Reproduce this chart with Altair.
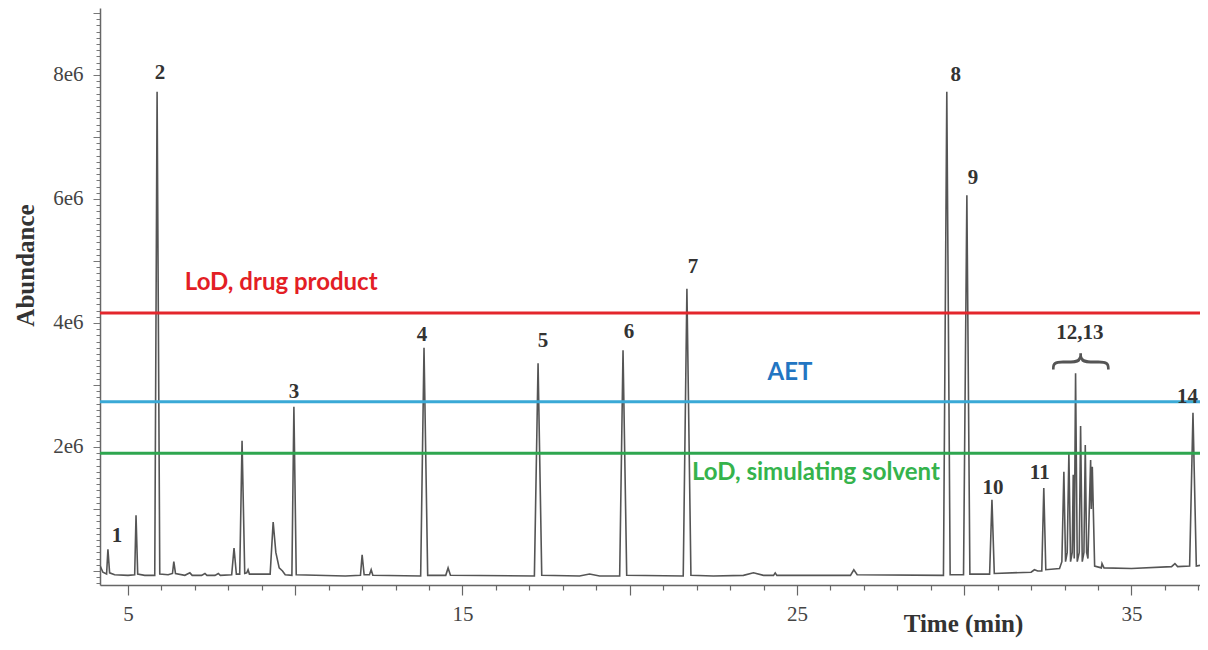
import altair as alt
import pandas as pd

# Chromatogram trace vertices: (time in min, abundance in 1e6)
TRACE = [
    (4.17, 0.08), (4.25, -0.02), (4.36, -0.05), (4.40, 0.35), (4.45, -0.03), (4.60, -0.06),
    (5.00, -0.07), (5.20, -0.06), (5.24, 0.90), (5.29, -0.05), (5.50, -0.07), (5.80, -0.07),
    (5.87, 7.73), (5.95, -0.05), (6.20, -0.06), (6.33, -0.04), (6.37, 0.15), (6.42, -0.04),
    (6.70, -0.07), (6.85, -0.03), (6.92, -0.07), (7.20, -0.07), (7.30, -0.04), (7.36, -0.07),
    (7.60, -0.07), (7.70, -0.04), (7.76, -0.07), (8.10, -0.06), (8.17, 0.37), (8.24, -0.05),
    (8.34, -0.05), (8.41, 2.10), (8.49, -0.04), (8.55, -0.03), (8.59, 0.02), (8.63, -0.05),
    (9.25, -0.05), (9.34, 0.79), (9.42, 0.30), (9.52, 0.05), (9.62, 0.00), (9.70, -0.06),
    (9.90, -0.07), (9.96, 2.65), (10.03, -0.06), (11.50, -0.08), (11.95, -0.07), (12.00, 0.26),
    (12.06, -0.06), (12.22, -0.06), (12.27, 0.02), (12.32, -0.07), (13.75, -0.08), (13.85, 3.60),
    (13.96, -0.07), (14.50, -0.07), (14.57, 0.05), (14.64, -0.07), (17.15, -0.08), (17.26, 3.35),
    (17.37, -0.07), (18.50, -0.08), (18.80, -0.05), (19.10, -0.08), (19.70, -0.08), (19.80, 3.56),
    (19.91, -0.07), (21.60, -0.08), (21.71, 4.55), (21.83, -0.07), (22.50, -0.08), (23.40, -0.07),
    (23.70, -0.03), (24.00, -0.07), (24.30, -0.07), (24.35, -0.03), (24.40, -0.07), (26.60, -0.07),
    (26.70, 0.02), (26.80, -0.06), (29.38, -0.07), (29.48, 7.73), (29.58, -0.06), (29.98, -0.06),
    (30.08, 6.06), (30.17, -0.05), (30.76, -0.05), (30.83, 1.15), (30.90, -0.04), (32.00, -0.02),
    (32.10, 0.02), (32.20, 0.00), (32.32, 0.00), (32.38, 1.34), (32.44, 0.02), (32.85, 0.04),
    (32.92, 0.15), (32.98, 1.60), (33.03, 0.15), (33.08, 0.30), (33.13, 1.90), (33.18, 0.15),
    (33.23, 0.30), (33.26, 1.55), (33.29, 0.20), (33.33, 3.19), (33.38, 0.15), (33.44, 0.30),
    (33.48, 2.34), (33.53, 0.15), (33.58, 0.30), (33.62, 2.03), (33.66, 0.30), (33.70, 0.20),
    (33.78, 1.79), (33.80, 1.00), (33.83, 1.68), (33.90, 0.08), (34.10, 0.05), (34.12, 0.12),
    (34.18, 0.05), (35.00, 0.04), (36.20, 0.07), (36.30, 0.12), (36.38, 0.07), (36.74, 0.08),
    (36.84, 2.55), (36.94, 0.08), (37.05, 0.09),
]

# Peak number labels: text, time, abundance (1e6)
PEAK_LABELS = ["1", "2", "3", "4", "5", "6", "7", "8", "9", "10", "11", "12,13", "14"]
PEAK_T = [4.67, 5.96, 9.96, 13.79, 17.41, 19.98, 21.89, 29.75, 30.26, 30.86, 32.26, 33.46, 36.68]
PEAK_V = [0.565, 8.03, 2.89, 3.81, 3.71, 3.85, 4.90, 8.00, 6.34, 1.34, 1.58, 3.84, 2.81]

# Threshold lines (abundance, 1e6)
THRESH_NAMES = ["LoD, drug product", "AET", "LoD, simulating solvent"]
THRESH_VALUES = [4.16, 2.73, 1.90]
THRESH_COLORS = ["#e3262c", "#3aa9d6", "#2ea64f"]
THRESH_TEXT_COLORS = ["#e31e25", "#2275c2", "#35b34c"]
THRESH_LABEL_T = [6.70, 24.79, 21.86]
THRESH_LABEL_V = [4.65, 3.19, 1.58]
THRESH_LABEL_ALIGN = ["left", "center", "left"]

X_DOMAIN = [4.163, 37.05]
Y_DOMAIN = [-0.226, 9.08]

trace_df = pd.DataFrame(TRACE, columns=["t", "v"])
trace_df["i"] = range(len(trace_df))
peaks_df = pd.DataFrame({"label": PEAK_LABELS, "t": PEAK_T, "v": PEAK_V})
thr_df = pd.DataFrame({"name": THRESH_NAMES, "v": THRESH_VALUES, "color": THRESH_COLORS})
thr_lbl_df = pd.DataFrame({
    "name": THRESH_NAMES, "t": THRESH_LABEL_T, "v": THRESH_LABEL_V,
    "color": THRESH_TEXT_COLORS, "align": THRESH_LABEL_ALIGN,
})

x_ticks = list(range(5, 38))
y_ticks = [round(-0.2 + 0.1 * k, 1) for k in range(0, 93)]

serif = "Liberation Serif"
sans = "Lato"

x_axis = alt.Axis(
    values=x_ticks,
    labelExpr="datum.value % 10 == 5 ? datum.label : ''",
    tickSize={"condition": {"test": "datum.value % 5 == 0", "value": 10}, "value": 5},
    labelFont=serif, labelFontSize=21, labelColor="#444", labelPadding=8,
    domainColor="#666", domainWidth=1.5, tickColor="#666", tickWidth=1.2,
    grid=False, title="Time (min)", titleFont=serif, titleFontSize=25,
    titleFontWeight="bold", titleColor="#333", titleX=863, titleY=46,
    titleAnchor="start", titleAlign="center", titleBaseline="alphabetic",
    labelFlush=False, labelOverlap=False,
)
y_axis = alt.Axis(
    values=y_ticks,
    labelExpr="(abs(datum.value - round(datum.value / 2) * 2) < 0.001 && datum.value > 1) ? round(datum.value) + 'e6' : ''",
    tickSize={"condition": {"test": "abs(datum.value - round(datum.value)) < 0.001", "value": 7}, "value": 4},
    labelFont=serif, labelFontSize=21, labelColor="#444", labelPadding=10,
    domainColor="#666", domainWidth=1.5, tickColor="#777", tickWidth=1,
    grid=False, title="Abundance", titleFont=serif, titleFontSize=25,
    titleFontWeight="bold", titleColor="#333", titleAngle=270, titleX=-75,
    titleY=257, titleAnchor="start", titleAlign="center", titleBaseline="middle",
    labelFlush=False, labelOverlap=False,
)

xs = alt.Scale(domain=X_DOMAIN, nice=False, zero=False)
ys = alt.Scale(domain=Y_DOMAIN, nice=False, zero=False)


def X():
    return alt.X("t:Q", scale=xs, axis=x_axis)


def Y():
    return alt.Y("v:Q", scale=ys, axis=y_axis)


trace = alt.Chart(trace_df).mark_line(color="#555", strokeWidth=1.6, clip=True).encode(
    x=X(), y=Y(), order="i:Q",
)

rules = alt.Chart(thr_df).mark_rule(strokeWidth=3).encode(
    y=Y(),
    color=alt.Color("color:N", scale=None),
)


def thr_text_layer(align):
    return alt.Chart(thr_lbl_df).transform_filter(
        alt.datum.align == align
    ).mark_text(
        font=sans, fontSize=24, fontWeight="bold", baseline="middle", align=align
    ).encode(
        x=X(), y=Y(),
        text="name:N",
        color=alt.Color("color:N", scale=None),
    )


peak_text = alt.Chart(peaks_df).mark_text(
    font=serif, fontSize=21, fontWeight="bold", color="#333", baseline="middle", align="center"
).encode(
    x=X(), y=Y(), text="label:N",
)

brace_df = pd.DataFrame({"t": [33.46], "v": [3.40], "s": ["}"]})
brace = alt.Chart(brace_df).mark_text(
    font="DejaVu Sans", fontSize=62, fontWeight=200, color="#555", angle=270,
    baseline="middle", align="center"
).encode(
    x=X(), y=Y(), text="s:N",
)

chart = alt.layer(
    trace, rules, thr_text_layer("left"), thr_text_layer("center"), peak_text, brace
).properties(
    width=1100, height=577,
    padding={"left": 92, "top": 0, "right": 0, "bottom": 54},
    autosize=alt.AutoSizeParams(type="none"),
).configure_view(stroke=None)

chart.save("out.html", embed_options={"renderer": "svg", "actions": False})
